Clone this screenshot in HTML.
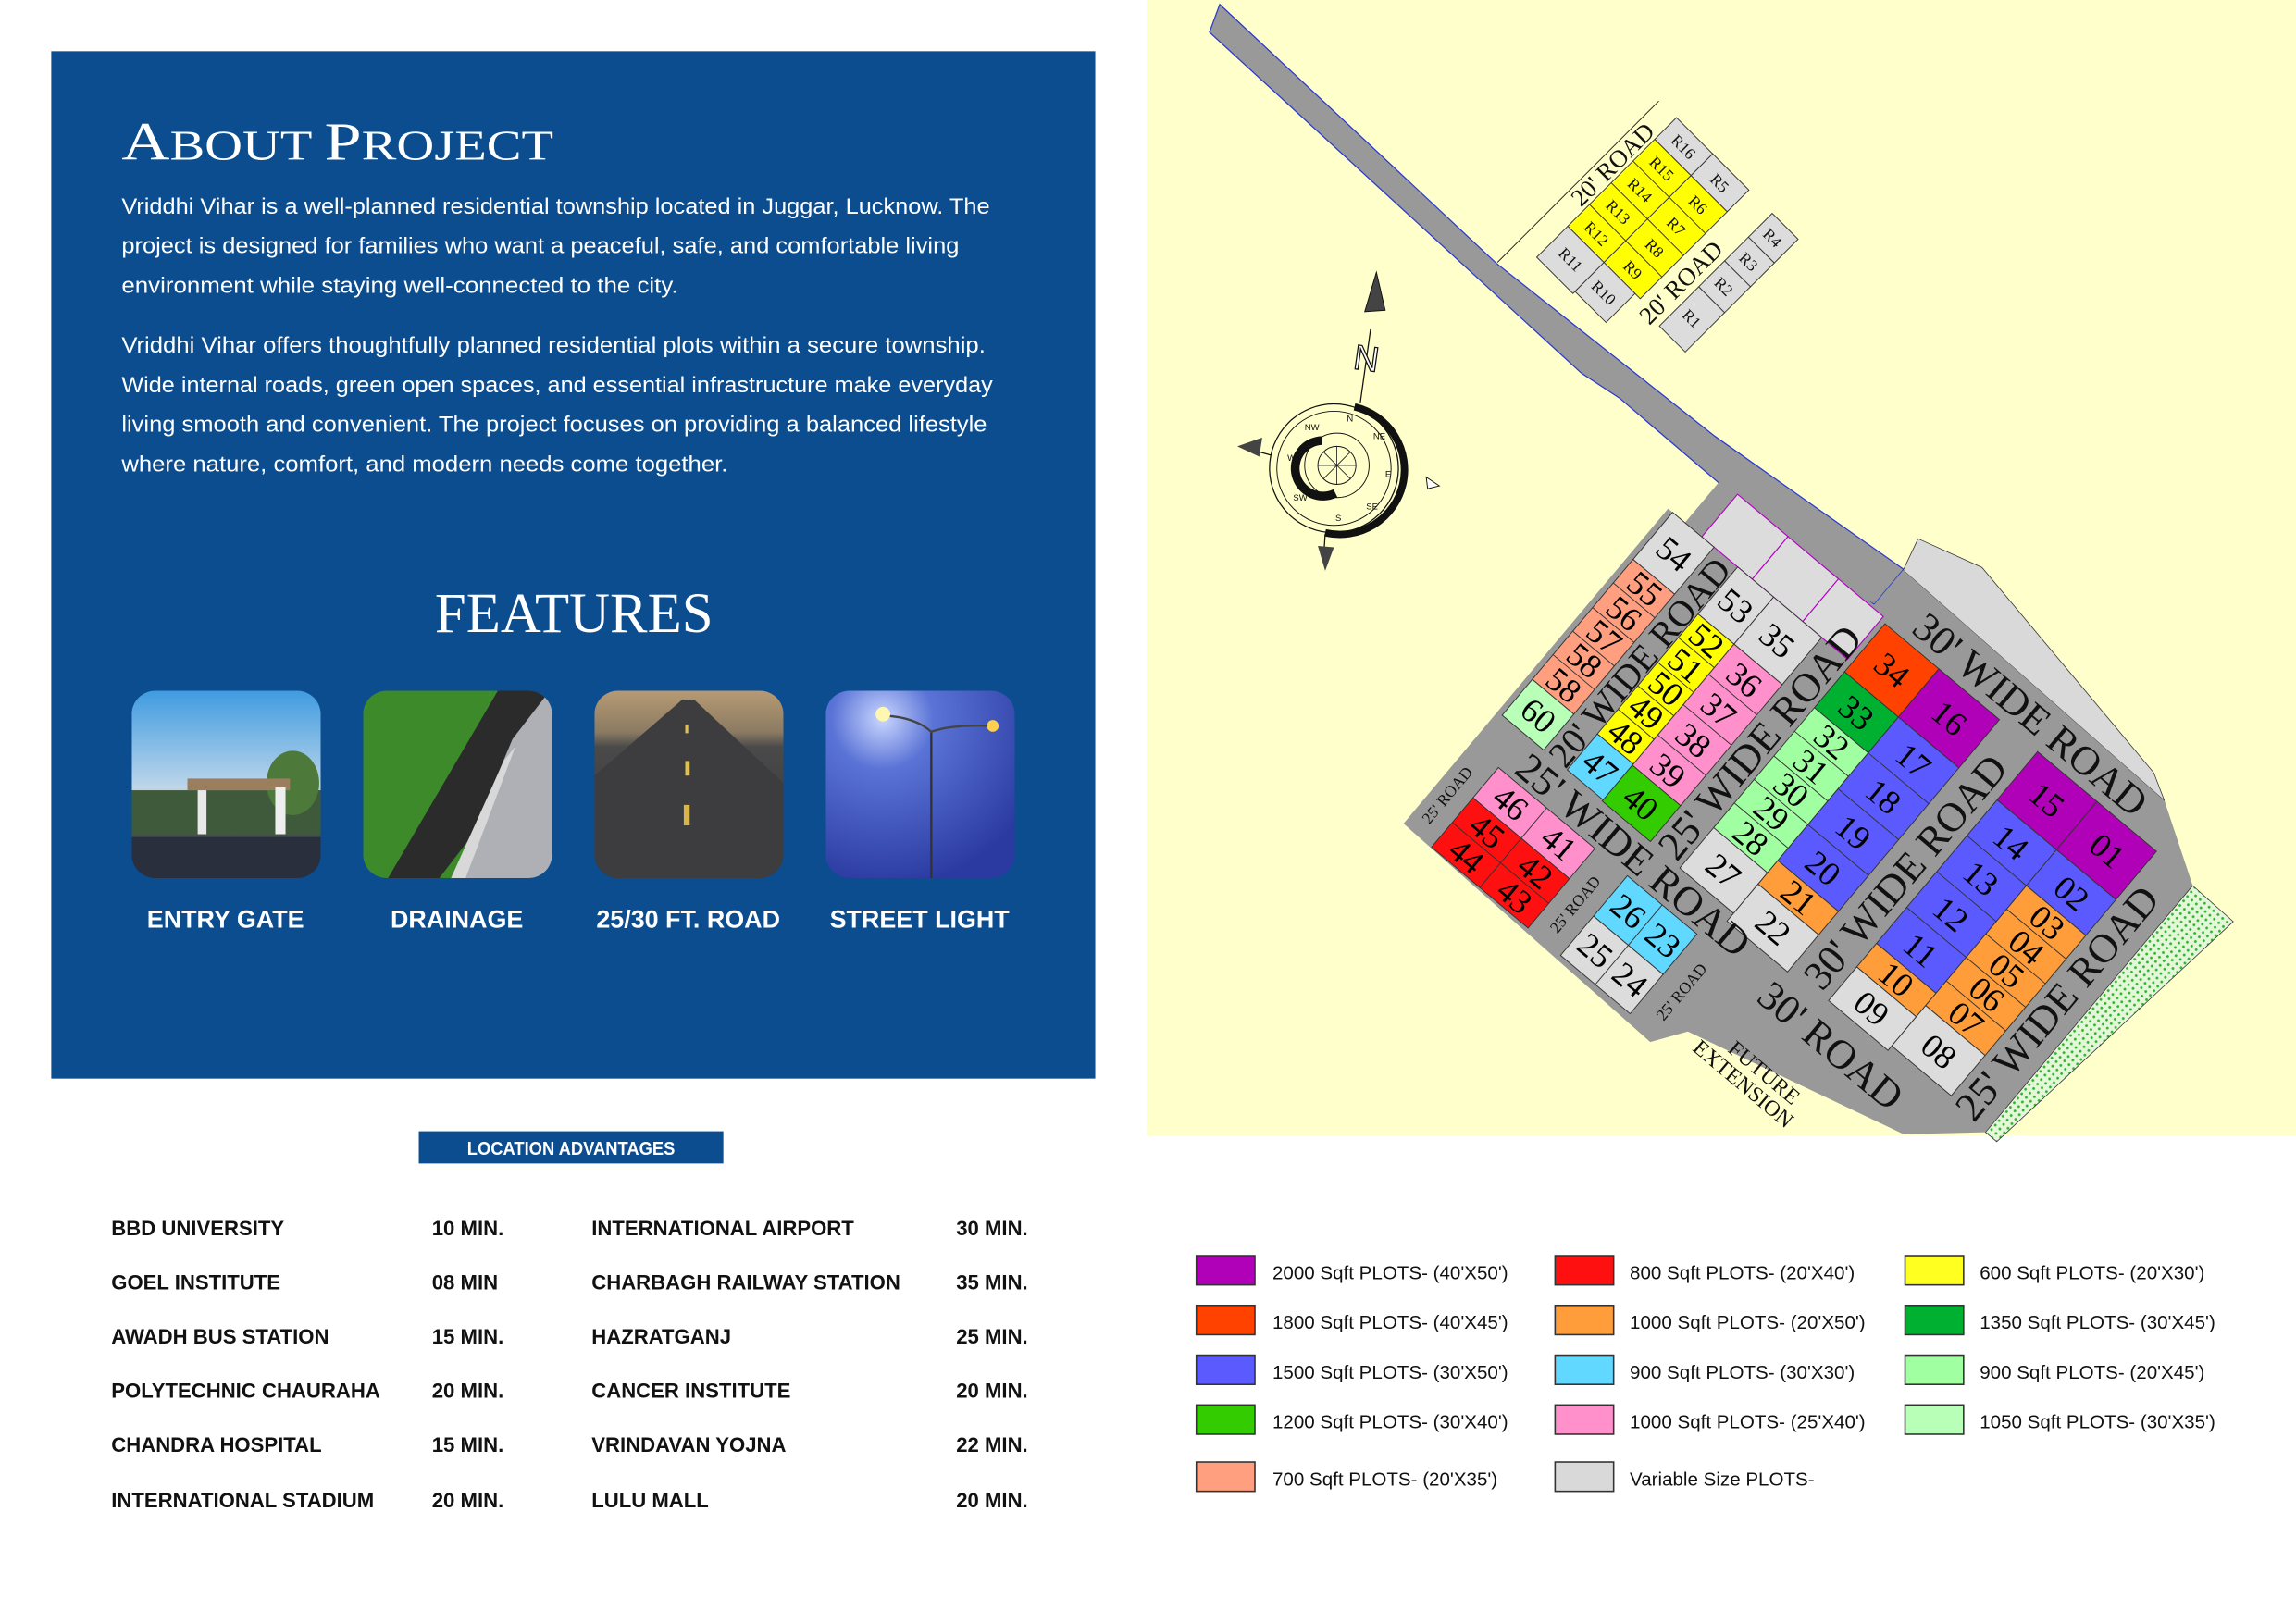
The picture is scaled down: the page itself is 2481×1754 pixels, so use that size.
<!DOCTYPE html>
<html><head><meta charset="utf-8"><style>
html,body{margin:0;padding:0;background:#fff;}
svg{display:block;}
</style></head><body>
<svg width="2481" height="1754" viewBox="0 0 1568 1109" preserveAspectRatio="none" xmlns="http://www.w3.org/2000/svg">
<defs>
<linearGradient id="sky" x1="0" y1="0" x2="0" y2="1"><stop offset="0" stop-color="#3f9be0"/><stop offset="0.5" stop-color="#b9d4ea"/><stop offset="0.62" stop-color="#e6c9cf"/><stop offset="0.7" stop-color="#5c7a5a"/><stop offset="0.8" stop-color="#3a3f48"/><stop offset="1" stop-color="#23293a"/></linearGradient>
<linearGradient id="road" x1="0" y1="0" x2="0" y2="1"><stop offset="0" stop-color="#b79a74"/><stop offset="0.22" stop-color="#8b7b62"/><stop offset="0.3" stop-color="#4a4a4a"/><stop offset="1" stop-color="#333"/></linearGradient>
<radialGradient id="lamp" cx="0.3" cy="0.15" r="0.9"><stop offset="0" stop-color="#c9d6ff"/><stop offset="0.3" stop-color="#5a73d6"/><stop offset="1" stop-color="#2b3aa0"/></radialGradient>
<pattern id="dots" width="4" height="4" patternUnits="userSpaceOnUse"><rect width="4" height="4" fill="#e4f7d8"/><circle cx="2" cy="2" r="0.9" fill="#2fb52f"/></pattern>
<clipPath id="c1"><rect x="90" y="472" width="129" height="128" rx="16"/></clipPath>
<clipPath id="c2"><rect x="248" y="472" width="129" height="128" rx="16"/></clipPath>
<clipPath id="c3"><rect x="406" y="472" width="129" height="128" rx="16"/></clipPath>
<clipPath id="c4"><rect x="564" y="472" width="129" height="128" rx="16"/></clipPath>
</defs>

<!-- LEFT PANEL -->
<rect x="35" y="35" width="713" height="702" fill="#0b4d8f"/>
<text x="83" y="109" fill="#fff" font-family="Liberation Serif, serif" textLength="295" lengthAdjust="spacingAndGlyphs"><tspan font-size="37">A</tspan><tspan font-size="29">BOUT </tspan><tspan font-size="37">P</tspan><tspan font-size="29">ROJECT</tspan></text>
<g fill="#fff" font-family="Liberation Sans, sans-serif" font-size="15" lengthAdjust="spacingAndGlyphs">
<text x="83" y="146" textLength="593" lengthAdjust="spacingAndGlyphs">Vriddhi Vihar is a well-planned residential township located in Juggar, Lucknow. The</text>
<text x="83" y="173" textLength="572" lengthAdjust="spacingAndGlyphs">project is designed for families who want a peaceful, safe, and comfortable living</text>
<text x="83" y="200" textLength="380" lengthAdjust="spacingAndGlyphs">environment while staying well-connected to the city.</text>
<text x="83" y="241" textLength="590" lengthAdjust="spacingAndGlyphs">Vriddhi Vihar offers thoughtfully planned residential plots within a secure township.</text>
<text x="83" y="268" textLength="595" lengthAdjust="spacingAndGlyphs">Wide internal roads, green open spaces, and essential infrastructure make everyday</text>
<text x="83" y="295" textLength="591" lengthAdjust="spacingAndGlyphs">living smooth and convenient. The project focuses on providing a balanced lifestyle</text>
<text x="83" y="322" textLength="414" lengthAdjust="spacingAndGlyphs">where nature, comfort, and modern needs come together.</text>
</g>
<text x="392" y="432" fill="#fff" font-family="Liberation Serif, serif" font-size="39" text-anchor="middle" textLength="190" lengthAdjust="spacingAndGlyphs">FEATURES</text>

<!-- feature images -->
<g clip-path="url(#c1)">
<rect x="90" y="472" width="129" height="128" fill="url(#sky)"/>
<rect x="90" y="540" width="129" height="30" fill="#3f5a3a"/>
<ellipse cx="200" cy="535" rx="18" ry="22" fill="#4d7a3a"/>
<rect x="128" y="532" width="70" height="8" fill="#9a7e5e"/>
<rect x="135" y="540" width="6" height="30" fill="#e8e8e8"/><rect x="188" y="538" width="7" height="32" fill="#eee"/>
<rect x="90" y="572" width="129" height="28" fill="#2a2f3d"/>
</g>
<g clip-path="url(#c2)">
<rect x="248" y="472" width="129" height="128" fill="#3d8a2a"/>
<polygon points="340,472 377,472 377,500 300,600 265,600" fill="#2b2b2b"/>
<polygon points="350,505 377,470 377,600 310,600" fill="#aeb0b6"/>
<line x1="340" y1="472" x2265="0" stroke="none"/>
<polygon points="344,520 352,510 318,600 308,600" fill="#d8d8d8"/>
</g>
<g clip-path="url(#c3)">
<rect x="406" y="472" width="129" height="128" fill="url(#road)"/>
<polygon points="466,478 474,478 535,535 535,600 406,600 406,530" fill="#3d3d3f"/>
<rect x="468" y="495" width="2" height="6" fill="#e0c050"/><rect x="468" y="520" width="3" height="10" fill="#e0c050"/><rect x="467" y="550" width="4" height="14" fill="#d8b44a"/>
</g>
<g clip-path="url(#c4)">
<rect x="564" y="472" width="129" height="128" fill="url(#lamp)"/>
<line x1="636" y1="500" x2="636" y2="600" stroke="#333" stroke-width="1.5"/>
<path d="M604,489 Q625,490 636,500 Q650,495 676,496" fill="none" stroke="#444" stroke-width="1.5"/>
<circle cx="603" cy="488" r="5" fill="#fff6b0"/><circle cx="678" cy="496" r="4" fill="#ffd050"/>
</g>
<g fill="#fff" font-family="Liberation Sans, sans-serif" font-weight="bold" font-size="17" text-anchor="middle">
<text x="154" y="634">ENTRY GATE</text>
<text x="312" y="634">DRAINAGE</text>
<text x="470" y="634">25/30 FT. ROAD</text>
<text x="628" y="634">STREET LIGHT</text>
</g>

<!-- Location advantages -->
<rect x="286" y="773" width="208" height="22" fill="#0b4d8f"/>
<text x="390" y="789" fill="#fff" font-family="Liberation Sans, sans-serif" font-weight="bold" font-size="13" text-anchor="middle" textLength="142" lengthAdjust="spacingAndGlyphs">LOCATION ADVANTAGES</text>
<g fill="#111" font-family="Liberation Sans, sans-serif" font-weight="bold" font-size="14">
<text x="76" y="844">BBD UNIVERSITY</text><text x="295" y="844">10 MIN.</text><text x="404" y="844">INTERNATIONAL AIRPORT</text><text x="653" y="844">30 MIN.</text>
<text x="76" y="881">GOEL INSTITUTE</text><text x="295" y="881">08 MIN</text><text x="404" y="881">CHARBAGH RAILWAY STATION</text><text x="653" y="881">35 MIN.</text>
<text x="76" y="918">AWADH BUS STATION</text><text x="295" y="918">15 MIN.</text><text x="404" y="918">HAZRATGANJ</text><text x="653" y="918">25 MIN.</text>
<text x="76" y="955">POLYTECHNIC CHAURAHA</text><text x="295" y="955">20 MIN.</text><text x="404" y="955">CANCER INSTITUTE</text><text x="653" y="955">20 MIN.</text>
<text x="76" y="992">CHANDRA HOSPITAL</text><text x="295" y="992">15 MIN.</text><text x="404" y="992">VRINDAVAN YOJNA</text><text x="653" y="992">22 MIN.</text>
<text x="76" y="1030">INTERNATIONAL STADIUM</text><text x="295" y="1030">20 MIN.</text><text x="404" y="1030">LULU MALL</text><text x="653" y="1030">20 MIN.</text>
</g>

<!-- Legend -->
<g stroke="#333" stroke-width="1">
<rect x="817" y="858" width="40" height="20" fill="#b000b8"/>
<rect x="817" y="892" width="40" height="20" fill="#ff4200"/>
<rect x="817" y="926" width="40" height="20" fill="#5a5aff"/>
<rect x="817" y="960" width="40" height="20" fill="#33cc00"/>
<rect x="817" y="999" width="40" height="20" fill="#ff9f80"/>
<rect x="1062" y="858" width="40" height="20" fill="#ff1010"/>
<rect x="1062" y="892" width="40" height="20" fill="#ff9d3a"/>
<rect x="1062" y="926" width="40" height="20" fill="#60d8ff"/>
<rect x="1062" y="960" width="40" height="20" fill="#ff90cc"/>
<rect x="1062" y="999" width="40" height="20" fill="#d9d9d9"/>
<rect x="1301" y="858" width="40" height="20" fill="#ffff20"/>
<rect x="1301" y="892" width="40" height="20" fill="#00b030"/>
<rect x="1301" y="926" width="40" height="20" fill="#a0ffa0"/>
<rect x="1301" y="960" width="40" height="20" fill="#b8ffb8"/>
</g>
<g fill="#111" font-family="Liberation Sans, sans-serif" font-size="13">
<text x="869" y="874">2000 Sqft PLOTS- (40'X50')</text>
<text x="869" y="908">1800 Sqft PLOTS- (40'X45')</text>
<text x="869" y="942">1500 Sqft PLOTS- (30'X50')</text>
<text x="869" y="976">1200 Sqft PLOTS- (30'X40')</text>
<text x="869" y="1015">700 Sqft PLOTS- (20'X35')</text>
<text x="1113" y="874">800 Sqft PLOTS- (20'X40')</text>
<text x="1113" y="908">1000 Sqft PLOTS- (20'X50')</text>
<text x="1113" y="942">900 Sqft PLOTS- (30'X30')</text>
<text x="1113" y="976">1000 Sqft PLOTS- (25'X40')</text>
<text x="1113" y="1015">Variable Size PLOTS-</text>
<text x="1352" y="874">600 Sqft PLOTS- (20'X30')</text>
<text x="1352" y="908">1350 Sqft PLOTS- (30'X45')</text>
<text x="1352" y="942">900 Sqft PLOTS- (20'X45')</text>
<text x="1352" y="976">1050 Sqft PLOTS- (30'X35')</text>
</g>

<!-- MAP -->
<rect x="783" y="0" width="785" height="776" fill="#ffffcc"/>
<!-- main road -->
<polygon points="833,3 1022,180 1171,298 1300,389 1280,413 1250,395 1106,272 1080,255 826,22" fill="#999" stroke="#2a3ad0" stroke-width="0.8"/>

<!-- R plots -->
<g transform="matrix(0.707,0.707,-0.707,0.707,1135,115)" font-family="Liberation Serif, serif" text-anchor="middle">
<line x1="-34" y1="-31" x2="-34" y2="125" stroke="#222" stroke-width="0.6"/>
<g stroke="#333" stroke-width="0.6">
<rect x="-17.5" y="-31.5" width="35" height="21" fill="#dcdcdc"/>
<rect x="17.5" y="-31.5" width="35" height="21" fill="#dcdcdc"/>
<rect x="-17.5" y="-10.5" width="35" height="84" fill="#ffff00"/>
<rect x="17.5" y="-10.5" width="35" height="84" fill="#ffff00"/>
<line x1="-17.5" y1="10.5" x2="52.5" y2="10.5"/><line x1="-17.5" y1="31.5" x2="52.5" y2="31.5"/><line x1="-17.5" y1="52.5" x2="52.5" y2="52.5"/>
<rect x="-17.5" y="73.5" width="35" height="30" fill="#dcdcdc"/>
<rect x="17.5" y="73.5" width="30" height="28" fill="#dcdcdc"/>
<rect x="75" y="-31.5" width="25" height="23" fill="#dcdcdc"/>
<rect x="75" y="-8.5" width="25" height="23" fill="#dcdcdc"/>
<rect x="75" y="14.5" width="25" height="25" fill="#dcdcdc"/>
<rect x="75" y="39.5" width="25" height="38" fill="#dcdcdc"/>
</g>
<g font-size="11" fill="#111">
<text x="0" y="4">R15</text><text x="0" y="25">R14</text><text x="0" y="46">R13</text><text x="0" y="67">R12</text>
<text x="35" y="4">R6</text><text x="35" y="25">R7</text><text x="35" y="46">R8</text><text x="35" y="67">R9</text>
<text x="0" y="-17">R16</text><text x="35" y="-17">R5</text><text x="0" y="92">R11</text><text x="32" y="92">R10</text>
<text x="87" y="-16">R4</text><text x="87" y="7">R3</text><text x="87" y="31">R2</text><text x="87" y="62">R1</text>
</g>
<g font-size="17" fill="#111">
<text transform="translate(-20,22) rotate(-90)">20' ROAD</text>
<text transform="translate(70,46) rotate(-90)">20' ROAD</text>
</g>
</g>

<!-- site frame -->
<g transform="matrix(0.766,0.643,-0.643,0.766,1391.5,513.6)" font-family="Liberation Serif, serif" text-anchor="middle">
<polygon points="-156,-59 -110,-72 70,-40 88,-30 -150,-36" fill="#d9d9d9" stroke="#333" stroke-width="0.5"/>
<polygon points="-150,-36 88,-30 140,2 140,222 98,259 -60,300 -75,322 -300,316 -300,35 -285,35 -285,-5 -150,-5" fill="#999"/>
<polygon points="140,2 177,3 150,222 140,222" fill="url(#dots)" stroke="#333" stroke-width="0.5"/>
<g stroke="#b000c0" stroke-width="0.7" fill="#dcdcdc">
<rect x="-270" y="-3" width="45" height="38"/><rect x="-225" y="-3" width="45" height="38"/><rect x="-180" y="-3" width="40" height="38"/>
</g>
<g stroke="#333" stroke-width="0.6">
<!-- block A -->
<rect x="0" y="0" width="53" height="43" fill="#b000b8"/>
<rect x="0" y="43" width="53" height="128" fill="#5a5aff"/>
<line x1="0" y1="75" x2="53" y2="75"/><line x1="0" y1="107" x2="53" y2="107"/><line x1="0" y1="139" x2="53" y2="139"/>
<rect x="0" y="171" width="53" height="21" fill="#ff9d3a"/>
<rect x="0" y="192" width="53" height="30" fill="#dcdcdc"/>
<rect x="53" y="0" width="53" height="43" fill="#b000b8"/>
<rect x="53" y="43" width="53" height="32" fill="#5a5aff"/>
<rect x="53" y="75" width="53" height="107" fill="#ff9d3a"/>
<line x1="53" y1="96" x2="106" y2="96"/><line x1="53" y1="118" x2="106" y2="118"/><line x1="53" y1="139" x2="106" y2="139"/><line x1="53" y1="160" x2="106" y2="160"/>
<rect x="53" y="182" width="53" height="36" fill="#dcdcdc"/>
<!-- block B -->
<rect x="-136" y="0" width="48" height="43" fill="#ff4200"/>
<rect x="-136" y="43" width="48" height="32" fill="#00b030"/>
<rect x="-136" y="75" width="48" height="107" fill="#a0ffa0"/>
<line x1="-136" y1="96" x2="-88" y2="96"/><line x1="-136" y1="118" x2="-88" y2="118"/><line x1="-136" y1="139" x2="-88" y2="139"/><line x1="-136" y1="160" x2="-88" y2="160"/>
<rect x="-136" y="182" width="48" height="36" fill="#dcdcdc"/>
<rect x="-88" y="0" width="54" height="43" fill="#b000b8"/>
<rect x="-88" y="43" width="54" height="128" fill="#5a5aff"/>
<line x1="-88" y1="75" x2="-34" y2="75"/><line x1="-88" y1="107" x2="-34" y2="107"/><line x1="-88" y1="139" x2="-34" y2="139"/>
<rect x="-88" y="171" width="54" height="21" fill="#ff9d3a"/>
<rect x="-88" y="192" width="54" height="33" fill="#dcdcdc"/>
<!-- block C -->
<rect x="-206" y="35" width="43" height="42" fill="#dcdcdc"/>
<rect x="-206" y="77" width="43" height="108" fill="#ff90cc"/>
<line x1="-206" y1="104" x2="-163" y2="104"/><line x1="-206" y1="131" x2="-163" y2="131"/><line x1="-206" y1="158" x2="-163" y2="158"/>
<rect x="-206" y="185" width="43" height="32" fill="#33cc00"/>
<rect x="-238" y="35" width="32" height="42" fill="#dcdcdc"/>
<rect x="-238" y="77" width="32" height="107" fill="#ffff00"/>
<line x1="-238" y1="98" x2="-206" y2="98"/><line x1="-238" y1="120" x2="-206" y2="120"/><line x1="-238" y1="141" x2="-206" y2="141"/><line x1="-238" y1="162" x2="-206" y2="162"/>
<rect x="-238" y="184" width="32" height="32" fill="#60d8ff"/>
<!-- block D -->
<rect x="-296" y="35" width="37" height="42" fill="#dcdcdc"/>
<rect x="-296" y="77" width="37" height="107" fill="#ff9f80"/>
<line x1="-296" y1="98" x2="-259" y2="98"/><line x1="-296" y1="120" x2="-259" y2="120"/><line x1="-296" y1="141" x2="-259" y2="141"/><line x1="-296" y1="162" x2="-259" y2="162"/>
<rect x="-296" y="184" width="37" height="32" fill="#b8ffb8"/>
<!-- block E -->
<rect x="-275" y="245" width="86" height="27" fill="#ff90cc"/>
<rect x="-275" y="272" width="86" height="44" fill="#ff1010"/>
<line x1="-232" y1="245" x2="-232" y2="316"/><line x1="-275" y1="294" x2="-189" y2="294"/>
<!-- block F -->
<rect x="-160" y="245" width="62" height="36" fill="#60d8ff"/>
<rect x="-160" y="281" width="62" height="35" fill="#dcdcdc"/>
<line x1="-129" y1="245" x2="-129" y2="316"/>
</g>
<g font-size="23" fill="#000">
<text x="26" y="29">15</text><text x="26" y="67">14</text><text x="26" y="99">13</text><text x="26" y="131">12</text><text x="26" y="163">11</text><text x="26" y="189">10</text><text x="26" y="215">09</text>
<text x="80" y="29">01</text><text x="80" y="67">02</text><text x="80" y="93">03</text><text x="80" y="115">04</text><text x="80" y="136">05</text><text x="80" y="157">06</text><text x="80" y="179">07</text><text x="80" y="208">08</text>
<text x="-112" y="29">34</text><text x="-112" y="67">33</text><text x="-112" y="93">32</text><text x="-112" y="115">31</text><text x="-112" y="136">30</text><text x="-112" y="157">29</text><text x="-112" y="179">28</text><text x="-112" y="208">27</text>
<text x="-61" y="29">16</text><text x="-61" y="67">17</text><text x="-61" y="99">18</text><text x="-61" y="131">19</text><text x="-61" y="163">20</text><text x="-61" y="189">21</text><text x="-61" y="216">22</text>
<text x="-185" y="64">35</text><text x="-185" y="99">36</text><text x="-185" y="126">37</text><text x="-185" y="153">38</text><text x="-185" y="180">39</text><text x="-185" y="209">40</text>
<text x="-222" y="64">53</text><text x="-222" y="95">52</text><text x="-222" y="117">51</text><text x="-222" y="138">50</text><text x="-222" y="159">49</text><text x="-222" y="181">48</text><text x="-222" y="208">47</text>
<text x="-277" y="64">54</text><text x="-277" y="95">55</text><text x="-277" y="117">56</text><text x="-277" y="138">57</text><text x="-277" y="159">58</text><text x="-277" y="181">58</text><text x="-277" y="208">60</text>
<text x="-253" y="266">46</text><text x="-253" y="291">45</text><text x="-253" y="313">44</text>
<text x="-210" y="266">41</text><text x="-210" y="291">42</text><text x="-210" y="313">43</text>
<text x="-144" y="271">26</text><text x="-144" y="306">25</text><text x="-113" y="271">23</text><text x="-113" y="306">24</text>
</g>
<g font-size="28" fill="#111">
<text x="-20" y="-7">30' WIDE ROAD</text>
<text x="-166" y="241">25' WIDE ROAD</text>
<text x="21" y="254">30' ROAD</text>
<text transform="translate(-7,121) rotate(-90)">30' WIDE ROAD</text>
<text transform="translate(-140,117) rotate(-90)">25' WIDE ROAD</text>
<text transform="translate(130,123) rotate(-90)">25' WIDE ROAD</text>
<text transform="translate(-239,128) rotate(-90)" font-size="25">20' WIDE ROAD</text>
</g>
<g font-size="11" fill="#111">
<text transform="translate(-286,282) rotate(-90)">25' ROAD</text>
<text transform="translate(-171,283) rotate(-90)">25' ROAD</text>
<text transform="translate(-77,282) rotate(-90)">25' ROAD</text>
</g>
<g font-size="15" fill="#111">
<text x="-2" y="293">FUTURE</text>
<text x="-8" y="308">EXTENSION</text>
</g>
</g>

<!-- compass -->
<g stroke="#111" fill="none">
<circle cx="911" cy="320" r="44" stroke-width="0.8"/>
<circle cx="911" cy="320" r="39" stroke-width="0.6"/>
<path d="M925,278 A44,44 0 0 1 905,364" stroke-width="5"/>
<circle cx="913" cy="318" r="22" stroke-width="0.6"/>
<path d="M903,301 A19,19 0 1 0 912,337" stroke-width="6"/>
<circle cx="913" cy="318" r="13" stroke-width="0.6"/>
<line x1="900" y1="318" x2="926" y2="318" stroke-width="0.5"/><line x1="913" y1="305" x2="913" y2="331" stroke-width="0.5"/>
<line x1="904" y1="309" x2="922" y2="327" stroke-width="0.5"/><line x1="922" y1="309" x2="904" y2="327" stroke-width="0.5"/>
<line x1="929" y1="275" x2="936" y2="225" stroke-width="0.8"/>
<line x1="868" y1="311" x2="850" y2="306" stroke-width="0.8"/>
<line x1="905" y1="365" x2="904" y2="380" stroke-width="0.8"/>
</g>
<polygon points="940,186 932,213 946,212" fill="#444" stroke="#111" stroke-width="0.6"/>
<polygon points="845,305 862,299 860,312" fill="#444"/>
<polygon points="905,390 900,373 911,374" fill="#444"/>
<polygon points="983,332 974,326 975,334" fill="#fff" stroke="#111" stroke-width="0.6"/>
<text transform="translate(932,253) rotate(8)" font-family="Liberation Sans, sans-serif" font-size="24" fill="#fff" stroke="#111" stroke-width="0.8" text-anchor="middle">N</text>
<g font-family="Liberation Sans, sans-serif" font-size="6" fill="#111" text-anchor="middle">
<text x="896" y="294">NW</text><text x="922" y="288">N</text><text x="942" y="300">NE</text><text x="948" y="326">E</text><text x="937" y="348">SE</text><text x="914" y="356">S</text><text x="888" y="342">SW</text><text x="882" y="315">W</text>
</g>
</svg>
</body></html>
